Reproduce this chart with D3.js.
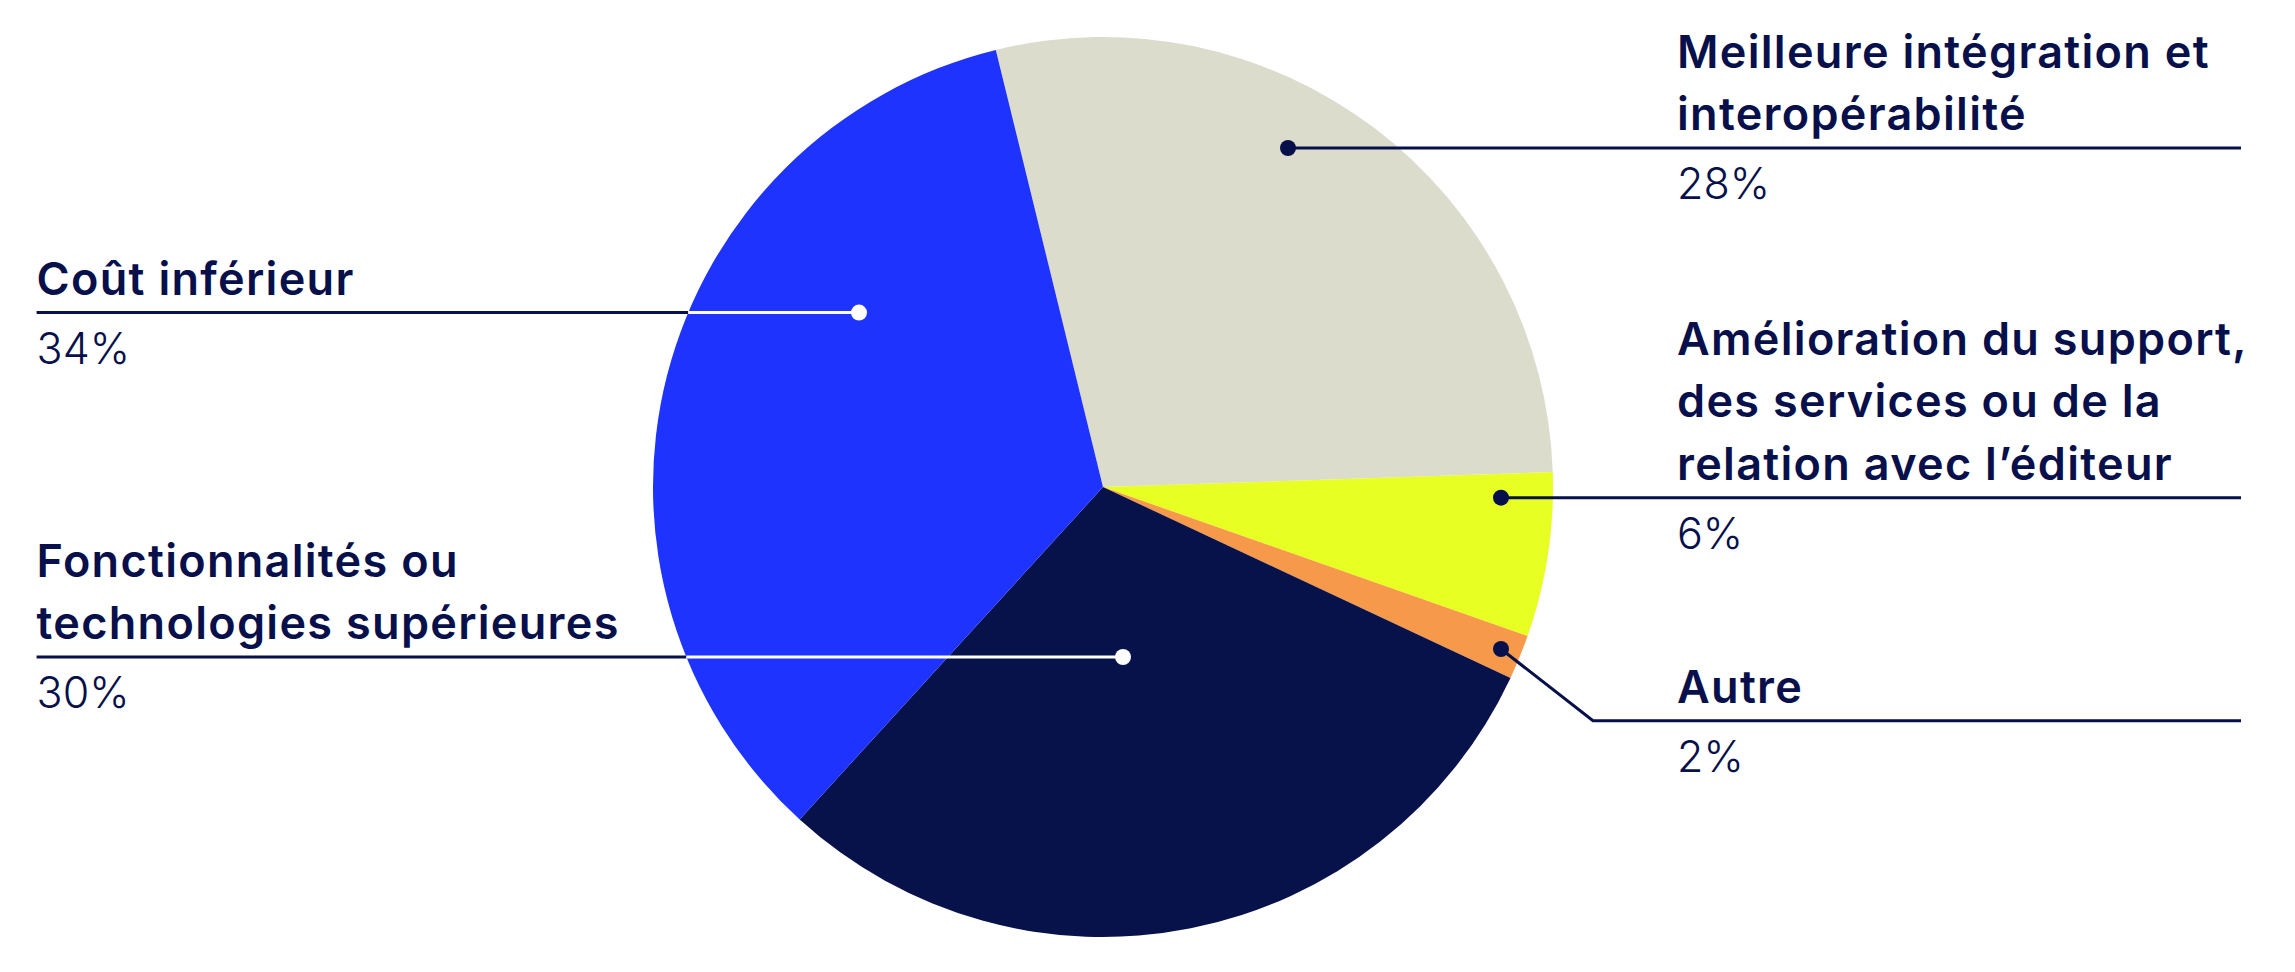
<!DOCTYPE html>
<html>
<head>
<meta charset="utf-8">
<script src="https://cdn.jsdelivr.net/npm/d3@7"></script>
<style>
  html, body { margin: 0; padding: 0; background: #ffffff; }
  svg { display: block; }
  .title { font-family: Inter, "Noto Sans", sans-serif; font-weight: 600; fill: #07104A; letter-spacing: 1.3px; }
  .pct { font-family: Inter, "Noto Sans", sans-serif; font-weight: 300; fill: #07104A; }
</style>
</head>
<body>
<svg id="chart" width="2295" height="972"></svg>
<script>
// ---- data ----
const categories = [
  ["Meilleure intégration et", "interopérabilité"],
  ["Amélioration du support,", "des services ou de la", "relation avec l’éditeur"],
  ["Autre"],
  ["Fonctionnalités ou", "technologies supérieures"],
  ["Coût inférieur"]
];
const values = [28.3, 5.9, 1.6, 29.8, 34.4];
const colors = ["#DCDCCD", "#E8FF23", "#F7994A", "#07114A", "#1F33FF"];

// ---- layout (not data) ----
const W = 2295, H = 972;
const cx = 1103, cy = 487, R = 450;
const startDeg = -13.78;
const navy = "#07104A";
const lineGap = 62.5;
const layout = [
  { side: "right", ruleY: 148,   dot: [1288, 148] },
  { side: "right", ruleY: 497.7, dot: [1501, 497.7] },
  { side: "right", ruleY: 720.7, dot: [1501, 649], elbowX: 1593 },
  { side: "left",  ruleY: 657,   dot: [1123, 657], inner: "#ffffff" },
  { side: "left",  ruleY: 312.6, dot: [859, 312.6], inner: "#ffffff" }
];
const rightX = 1677, rightEnd = 2241, leftX = 36.6;

const svg = d3.select("#chart");
const rad = d => d * Math.PI / 180;

const pie = d3.pie().sort(null).value(d => d)
  .startAngle(rad(startDeg)).endAngle(rad(startDeg + 360));
const arcs = pie(values);
const arc = d3.arc().innerRadius(0).outerRadius(R);

const g = svg.append("g").attr("transform", `translate(${cx},${cy})`);
g.selectAll("path.slice").data(arcs).enter().append("path")
  .attr("class", "slice")
  .attr("d", arc)
  .attr("fill", (d, i) => colors[i]);

const fmt = v => d3.format(".0f")(v) + "%";

arcs.forEach((a, i) => {
  const L = layout[i];
  const [dx, dy] = L.dot;
  if (L.side === "right") {
    if (L.elbowX !== undefined) {
      svg.append("path")
        .attr("d", d3.line()([[dx, dy], [L.elbowX, L.ruleY], [rightEnd, L.ruleY]]))
        .attr("fill", "none").attr("stroke", navy).attr("stroke-width", 3);
    } else {
      svg.append("line").attr("x1", dx).attr("y1", L.ruleY).attr("x2", rightEnd).attr("y2", L.ruleY)
        .attr("stroke", navy).attr("stroke-width", 3);
    }
    svg.append("circle").attr("cx", dx).attr("cy", dy).attr("r", 8).attr("fill", navy);
  } else {
    const edgeX = cx - Math.sqrt(R * R - (L.ruleY - cy) * (L.ruleY - cy));
    svg.append("line").attr("x1", leftX).attr("y1", L.ruleY).attr("x2", edgeX).attr("y2", L.ruleY)
      .attr("stroke", navy).attr("stroke-width", 3);
    svg.append("line").attr("x1", edgeX).attr("y1", L.ruleY).attr("x2", dx).attr("y2", L.ruleY)
      .attr("stroke", L.inner).attr("stroke-width", 3);
    svg.append("circle").attr("cx", dx).attr("cy", dy).attr("r", 8).attr("fill", L.inner);
  }
  const tx = L.side === "right" ? rightX : leftX;
  const lines = categories[i];
  const lastBase = L.ruleY - 18;
  lines.forEach((t, k) => {
    svg.append("text").attr("class", "title")
      .attr("x", tx).attr("y", lastBase - (lines.length - 1 - k) * lineGap)
      .attr("font-size", 45)
      .text(t);
  });
  svg.append("text").attr("class", "pct")
    .attr("x", tx).attr("y", L.ruleY + 51)
    .attr("font-size", 43)
    .text(fmt(values[i]));
});
</script>
</body>
</html>
